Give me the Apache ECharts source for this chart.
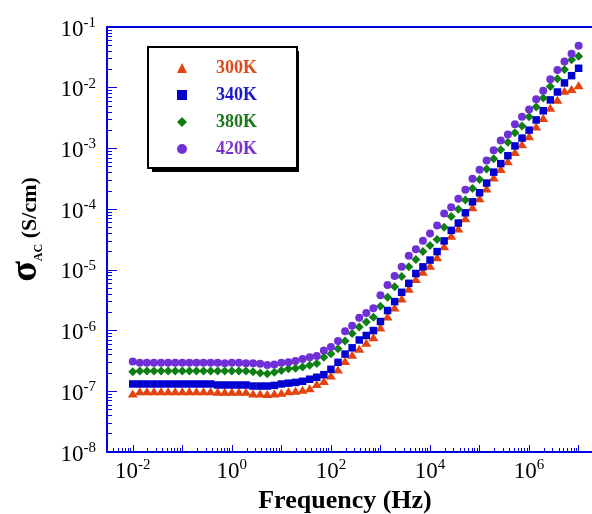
<!DOCTYPE html>
<html>
<head>
<meta charset="utf-8">
<script src="https://cdn.jsdelivr.net/npm/echarts@6/dist/echarts.min.js"></script>
<style>
html, body { margin: 0; padding: 0; background: #fff; }
#chart { width: 592px; height: 514px; }
</style>
</head>
<body>
<div id="chart"></div>
<script>
// frequency grid (Hz), 7 points per decade
var freq = [
    0.01, 0.0139, 0.0193, 0.0268, 0.0373, 0.0518, 0.072,
    0.1, 0.139, 0.193, 0.268, 0.373, 0.518, 0.72,
    1, 1.39, 1.93, 2.68, 3.73, 5.18, 7.2,
    10, 13.9, 19.3, 26.8, 37.3, 51.8, 72,
    100, 139, 193, 268, 373, 518, 720,
    1e3, 1390, 1930, 2680, 3730, 5180, 7200,
    1e4, 13900, 19300, 26800, 37300, 51800, 72000,
    1e5, 139000, 193000, 268000, 373000, 518000, 720000,
    1e6, 1.39e6, 1.93e6, 2.68e6, 3.73e6, 5.18e6, 7.2e6,
    1e7
];

// sigma AC (S/cm)
var s300 = [
    0.92e-7, 1.0e-7, 1.0e-7, 1.0e-7, 1.0e-7, 1.0e-7, 1.0e-7,
    1.0e-7, 1.0e-7, 1.0e-7, 1.0e-7, 1.0e-7, 0.98e-7, 0.98e-7,
    0.98e-7, 0.98e-7, 0.98e-7, 0.92e-7, 0.92e-7, 0.9e-7, 0.92e-7,
    0.95e-7, 1.0e-7, 1.02e-7, 1.06e-7, 1.12e-7, 1.32e-7, 1.48e-7,
    1.82e-7, 2.29e-7, 3.16e-7, 3.98e-7, 5.01e-7, 6.31e-7, 7.76e-7,
    1.12e-6, 1.70e-6, 2.40e-6, 3.39e-6, 4.90e-6, 7.08e-6, 9.33e-6,
    1.17e-5, 1.62e-5, 2.45e-5, 3.63e-5, 4.79e-5, 7.08e-5, 1.07e-4,
    1.51e-4, 2.19e-4, 3.31e-4, 4.57e-4, 6.17e-4, 8.71e-4, 1.17e-3,
    1.58e-3, 2.29e-3, 3.16e-3, 4.68e-3, 6.31e-3, 8.91e-3, 9.55e-3,
    1.10e-2
];
var s340 = [
    1.32e-7, 1.32e-7, 1.32e-7, 1.32e-7, 1.32e-7, 1.32e-7, 1.32e-7,
    1.32e-7, 1.32e-7, 1.32e-7, 1.32e-7, 1.32e-7, 1.27e-7, 1.27e-7,
    1.27e-7, 1.27e-7, 1.27e-7, 1.22e-7, 1.22e-7, 1.22e-7, 1.25e-7,
    1.32e-7, 1.36e-7, 1.40e-7, 1.46e-7, 1.58e-7, 1.70e-7, 1.88e-7,
    2.3e-7, 3.0e-7, 4.1e-7, 5.2e-7, 7.0e-7, 8.3e-7, 1.0e-6,
    1.41e-6, 2.14e-6, 3.0e-6, 4.27e-6, 6.0e-6, 8.7e-6, 1.12e-5,
    1.45e-5, 2.0e-5, 3.0e-5, 4.47e-5, 5.9e-5, 8.7e-5, 1.32e-4,
    1.86e-4, 2.69e-4, 4.07e-4, 5.62e-4, 7.6e-4, 1.1e-3, 1.48e-3,
    2.0e-3, 2.95e-3, 4.17e-3, 6.3e-3, 8.5e-3, 1.2e-2, 1.58e-2,
    2.09e-2
];
var s380 = [
    2.1e-7, 2.15e-7, 2.15e-7, 2.15e-7, 2.15e-7, 2.15e-7, 2.15e-7,
    2.15e-7, 2.15e-7, 2.15e-7, 2.15e-7, 2.15e-7, 2.15e-7, 2.15e-7,
    2.15e-7, 2.15e-7, 2.15e-7, 2.1e-7, 2.0e-7, 1.95e-7, 2.05e-7,
    2.19e-7, 2.34e-7, 2.40e-7, 2.51e-7, 2.69e-7, 2.88e-7, 3.63e-7,
    4.17e-7, 5.01e-7, 6.76e-7, 8.91e-7, 1.15e-6, 1.38e-6, 1.66e-6,
    2.51e-6, 3.55e-6, 5.25e-6, 7.76e-6, 1.12e-5, 1.48e-5, 2.0e-5,
    2.51e-5, 3.16e-5, 5.01e-5, 7.59e-5, 1.0e-4, 1.41e-4, 2.19e-4,
    3.09e-4, 4.57e-4, 6.76e-4, 9.55e-4, 1.26e-3, 1.82e-3, 2.34e-3,
    3.31e-3, 4.79e-3, 6.76e-3, 1.05e-2, 1.41e-2, 2.0e-2, 2.88e-2,
    3.31e-2
];
var s420 = [
    3.1e-7, 2.95e-7, 2.95e-7, 2.95e-7, 2.95e-7, 2.95e-7, 2.95e-7,
    2.95e-7, 2.95e-7, 2.95e-7, 2.95e-7, 2.95e-7, 2.95e-7, 2.9e-7,
    2.95e-7, 2.95e-7, 2.9e-7, 2.9e-7, 2.85e-7, 2.7e-7, 2.75e-7,
    2.95e-7, 3.02e-7, 3.16e-7, 3.39e-7, 3.63e-7, 3.80e-7, 4.68e-7,
    5.37e-7, 6.76e-7, 9.77e-7, 1.20e-6, 1.62e-6, 1.95e-6, 2.34e-6,
    3.80e-6, 5.62e-6, 7.94e-6, 1.12e-5, 1.70e-5, 2.19e-5, 3.02e-5,
    3.98e-5, 5.37e-5, 8.51e-5, 1.07e-4, 1.48e-4, 2.09e-4, 3.16e-4,
    4.47e-4, 6.31e-4, 9.33e-4, 1.35e-3, 1.70e-3, 2.51e-3, 3.31e-3,
    4.37e-3, 6.46e-3, 8.91e-3, 1.38e-2, 1.95e-2, 2.69e-2, 3.63e-2,
    4.90e-2
];

var seriesNames = ['300K', '340K', '380K', '420K'];
var xMajor = [1e-2, 1e-1, 1, 1e1, 1e2, 1e3, 1e4, 1e5, 1e6, 1e7];
var xLabelTicks = [1e-2, 1, 1e2, 1e4, 1e6];
var yMajor = [1e-8, 1e-7, 1e-6, 1e-5, 1e-4, 1e-3, 1e-2, 1e-1];
var xMin = Math.pow(10, -2.52), xMax = Math.pow(10, 7.27);
var yMin = 1e-8, yMax = 1e-1;

var blue = '#0000e0';
var serif = '"Liberation Serif", "Times New Roman", serif';

function minorTicks(lo, hi) {
    var out = [];
    for (var e = Math.floor(Math.log10(lo)); e <= Math.ceil(Math.log10(hi)); e++) {
        for (var k = 2; k < 10; k++) {
            var v = k * Math.pow(10, e);
            if (v > lo && v < hi) out.push(v);
        }
    }
    return out;
}

function powLabel(v) {
    return '{b|10}{s|' + Math.round(Math.log10(v)) + '}';
}

var labelRich = {
    b: {fontFamily: serif, fontSize: 23, lineHeight: 23, padding: [5, 0, 0, 0], color: '#000'},
    s: {fontFamily: serif, fontSize: 15, lineHeight: 15, verticalAlign: 'top', color: '#000'}
};

var chart = echarts.init(document.getElementById('chart'), null, {renderer: 'canvas'});

var symbols = ['triangle', 'rect', 'diamond', 'circle'];
var sizes = [[10, 8], 7.5, 9, 8];
var colors = ['#e2430f', '#0000d0', '#0e7f12', '#7030d8'];
var textColors = ['#e04a1a', '#1a1acc', '#1a7a1a', '#7a32cc'];
var values = [s300, s340, s380, s420];

var series = seriesNames.map(function (name, i) {
    return {
        name: name,
        type: 'scatter',
        symbol: symbols[i],
        symbolSize: sizes[i],
        itemStyle: {color: colors[i], opacity: 1},
        data: freq.map(function (f, j) { return [f, values[i][j]]; })
    };
});

var axisLine = {show: true, onZero: false, lineStyle: {color: blue, width: 2}};

chart.setOption({
    animation: false,
    backgroundColor: '#fff',
    grid: {left: 107, top: 27, right: 0, bottom: 62, outerBoundsMode: 'none', containLabel: false},
    // drop shadow behind the legend box
    graphic: [{
        type: 'rect', left: 152, top: 51, z: 3,
        shape: {width: 147, height: 121},
        style: {fill: '#000'}
    }],
    legend: {
        left: 148, top: 47, z: 4,
        orient: 'vertical',
        padding: [12, 40, 10, 29],
        itemGap: 9,
        itemWidth: 10,
        itemHeight: 10,
        borderColor: '#000',
        borderWidth: 2,
        backgroundColor: '#fff',
        textStyle: {fontFamily: serif, fontWeight: 'bold', fontSize: 18, padding: [0, 0, 0, 24]},
        data: seriesNames.map(function (n, i) {
            return {name: n, icon: symbols[i], itemStyle: {color: colors[i]}, textStyle: {color: textColors[i]}};
        })
    },
    xAxis: [
        {
            type: 'log', min: xMin, max: xMax, position: 'bottom',
            axisLine: axisLine,
            axisTick: {show: true, inside: true, length: 7, customValues: xMajor, lineStyle: {color: blue, width: 1}},
            axisLabel: {customValues: xLabelTicks, formatter: powLabel, rich: labelRich, margin: 6},
            splitLine: {show: false},
            name: 'Frequency (Hz)', nameLocation: 'middle', nameGap: 35,
            nameTextStyle: {fontFamily: serif, fontWeight: 'bold', fontSize: 26, color: '#000', padding: [0, 9, 0, 0]}
        },
        {
            type: 'log', min: xMin, max: xMax, position: 'bottom',
            axisLine: {show: false},
            axisTick: {show: true, inside: true, length: 4, customValues: minorTicks(xMin, xMax), lineStyle: {color: blue, width: 1}},
            axisLabel: {show: false},
            splitLine: {show: false}
        },
        {
            type: 'log', min: xMin, max: xMax, position: 'top',
            axisLine: axisLine,
            axisTick: {show: false},
            axisLabel: {show: false},
            splitLine: {show: false}
        }
    ],
    yAxis: [
        {
            type: 'log', min: yMin, max: yMax, position: 'left',
            axisLine: axisLine,
            axisTick: {show: true, inside: true, length: 10, customValues: yMajor, lineStyle: {color: blue, width: 1}},
            axisLabel: {customValues: yMajor, formatter: powLabel, rich: labelRich, margin: 11},
            splitLine: {show: false},
            name: '{sig|σ}{sub|AC}{t| (S/cm)}',
            nameLocation: 'middle', nameRotate: 90, nameGap: 62,
            nameTextStyle: {
                padding: [0, 0, 0, 20],
                rich: {
                    sig: {fontFamily: serif, fontWeight: 'bold', fontSize: 38, lineHeight: 38, verticalAlign: 'bottom', color: '#000'},
                    sub: {fontFamily: serif, fontWeight: 'bold', fontSize: 12, lineHeight: 14, verticalAlign: 'bottom', color: '#000'},
                    t: {fontFamily: serif, fontWeight: 'bold', fontSize: 22, lineHeight: 22, verticalAlign: 'bottom', padding: [0, 0, 4, 0], color: '#000'}
                }
            }
        },
        {
            type: 'log', min: yMin, max: yMax, position: 'left',
            axisLine: {show: false},
            axisTick: {show: true, inside: true, length: 5, customValues: minorTicks(yMin, yMax), lineStyle: {color: blue, width: 1}},
            axisLabel: {show: false},
            splitLine: {show: false}
        }
    ],
    series: series
});
</script>
</body>
</html>
